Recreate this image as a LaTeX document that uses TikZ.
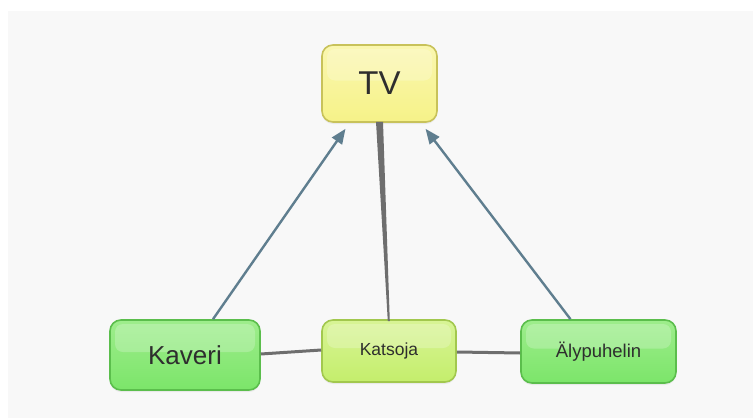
\documentclass[tikz,border=0pt]{standalone}
\usepackage{fontspec}
\setmainfont{Liberation Sans}
\usetikzlibrary{calc,arrows.meta,shadows}
\definecolor{pagebg}{HTML}{F8F8F8}
\definecolor{txt}{HTML}{2E2E2E}
\definecolor{tvfill}{HTML}{F6F288}
\definecolor{tvtop}{HTML}{FAF7B0}
\definecolor{tvedge}{HTML}{C8C25A}
\definecolor{grfill}{HTML}{7CE56A}
\definecolor{grtop}{HTML}{9EED8C}
\definecolor{gredge}{HTML}{5BBE4C}
\definecolor{ygfill}{HTML}{C4EE6C}
\definecolor{ygtop}{HTML}{D8F496}
\definecolor{ygedge}{HTML}{A2C84E}
\definecolor{arrowcol}{HTML}{5F7E8F}
\definecolor{linkcol}{HTML}{6E6E6E}
\tikzset{
  box/.style={draw, line width=1.6pt, rounded corners=11pt, align=center,
    text=txt, inner sep=0pt,
    drop shadow={opacity=0.12, shadow xshift=0pt, shadow yshift=-2pt},
    path picture={\fill[white, opacity=0.22, rounded corners=8pt]
      ($(path picture bounding box.north west)+(5,4)$) rectangle
      ($(path picture bounding box.east)+(-5,-3)$);}},
  tvbox/.style={box, draw=tvedge, top color=tvtop, bottom color=tvfill,
    minimum width=115pt, minimum height=77pt, font=\fontsize{33}{36}\selectfont},
  greenbox/.style={box, draw=gredge, top color=grtop, bottom color=grfill},
  limebox/.style={box, draw=ygedge, top color=ygtop, bottom color=ygfill},
  uses/.style={draw=arrowcol, line width=2.4pt,
    -{Triangle[length=15pt, width=12pt]}},
  link/.style={draw=linkcol, line width=3pt}
}
\begin{document}
\begin{tikzpicture}[x=1pt, y=-1pt]
  % backdrop
  \useasboundingbox (0,0) rectangle (753,418);
  \fill[white] (0,0) rectangle (753,418);
  \fill[pagebg] (8,11) rectangle (753,418);

  % nodes
  \node[tvbox] (tv) at (379.5,83.5) {TV};
  \node[greenbox, minimum width=150pt, minimum height=70pt,
        font=\fontsize{26}{30}\selectfont] (kaveri) at (185,355) {Kaveri};
  \node[limebox, minimum width=134pt, minimum height=62pt,
        font=\fontsize{17.5}{20}\selectfont] (katsoja) at (389,351) {Katsoja};
  \node[greenbox, minimum width=155pt, minimum height=63pt,
        font=\fontsize{18.5}{21}\selectfont] (aly) at (598.5,351.5) {Älypuhelin};

  % tapered link from the viewer up to the TV
  \fill[linkcol]
    ($(tv.south)+(-3.5,-1)$) -- ($(tv.south)+(3.5,-1)$) --
    ($(katsoja.north)+(0.8,2)$) -- ($(katsoja.north)+(-1.2,2)$) -- cycle;

  % horizontal links
  \draw[link] ($(kaveri.east)+(0,-1)$) -- ($(katsoja.west)+(0,-1)$);
  \draw[link] ($(katsoja.east)+(0,1)$) -- ($(aly.west)+(0,1.5)$);

  % arrows to the TV
  \draw[uses] ($(kaveri.north)+(28,0)$) -- ($(tv.south)+(-34,6)$);
  \draw[uses] ($(aly.north)+(-28,0)$) -- ($(tv.south)+(46,6)$);
\end{tikzpicture}
\end{document}
